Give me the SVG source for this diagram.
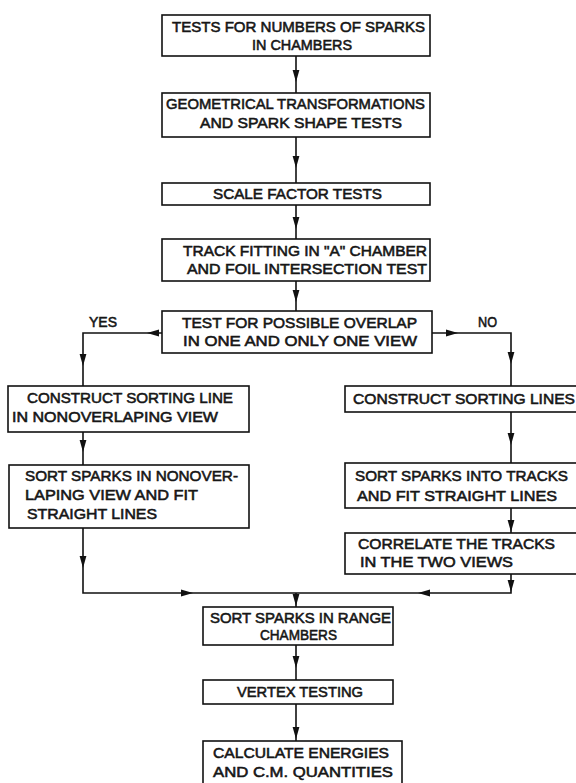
<svg xmlns="http://www.w3.org/2000/svg" width="576" height="783" viewBox="0 0 576 783">
  <style>
    .box { fill: #ffffff; stroke: #111111; stroke-width: 1.6; }
    .lbl { font-family: "Liberation Sans", "DejaVu Sans", Arial, sans-serif; font-size: 14.5px; font-weight: normal; fill: #161616; stroke: #161616; stroke-width: 0.55; }
    .wire { fill: none; stroke: #111111; stroke-width: 1.6; }
    .head { fill: #111111; }
  </style>
  <defs>
    <!-- arrowhead pointing down, tip at origin -->
    <path id="ah" d="M0,0 L-3.4,-12 L3.4,-12 Z"/>
  </defs>
  <rect width="576" height="783" fill="#ffffff"/>

  <g id="connectors">
    <path class="wire" d="M296,56 V93"/>
    <path class="wire" d="M296,137 V183"/>
    <path class="wire" d="M296,205 V239"/>
    <path class="wire" d="M296,281 V311"/>
    <path class="wire" d="M162,333 H83 V386"/>
    <path class="wire" d="M432,333 H511 V386"/>
    <path class="wire" d="M83,432 V465"/>
    <path class="wire" d="M83,528 V593 H511 V574"/>
    <path class="wire" d="M511,412 V463"/>
    <path class="wire" d="M511,508 V533"/>
    <path class="wire" d="M296,593 V607"/>
    <path class="wire" d="M296,645 V680"/>
    <path class="wire" d="M296,704 V741"/>
    <g class="head">
      <use href="#ah" transform="translate(296,82)"/>
      <use href="#ah" transform="translate(296,168)"/>
      <use href="#ah" transform="translate(296,229)"/>
      <use href="#ah" transform="translate(296,302)"/>
      <use href="#ah" transform="translate(147,333) rotate(90)"/>
      <use href="#ah" transform="translate(83,366)"/>
      <use href="#ah" transform="translate(458,333) rotate(-90)"/>
      <use href="#ah" transform="translate(511,364)"/>
      <use href="#ah" transform="translate(83,452)"/>
      <use href="#ah" transform="translate(83,568)"/>
      <use href="#ah" transform="translate(193,593) rotate(-90)"/>
      <use href="#ah" transform="translate(511,445)"/>
      <use href="#ah" transform="translate(511,532)"/>
      <use href="#ah" transform="translate(511,592)"/>
      <use href="#ah" transform="translate(418,593) rotate(90)"/>
      <use href="#ah" transform="translate(296,606)"/>
      <use href="#ah" transform="translate(296,668)"/>
      <use href="#ah" transform="translate(296,739)"/>
    </g>
    <text class="lbl" x="89" y="327" textLength="28" lengthAdjust="spacingAndGlyphs">YES</text>
    <text class="lbl" x="478" y="327" textLength="19" lengthAdjust="spacingAndGlyphs">NO</text>
  </g>

  <g id="n1">
    <rect class="box" x="162" y="15" width="268" height="41"/>
    <text class="lbl" x="172" y="32" textLength="253" lengthAdjust="spacingAndGlyphs">TESTS FOR NUMBERS OF SPARKS</text>
    <text class="lbl" x="252" y="50" textLength="100" lengthAdjust="spacingAndGlyphs">IN CHAMBERS</text>
  </g>
  <g id="n2">
    <rect class="box" x="162" y="93" width="268" height="44"/>
    <text class="lbl" x="166" y="109" textLength="259" lengthAdjust="spacingAndGlyphs">GEOMETRICAL TRANSFORMATIONS</text>
    <text class="lbl" x="200" y="128" textLength="202" lengthAdjust="spacingAndGlyphs">AND SPARK SHAPE TESTS</text>
  </g>
  <g id="n3">
    <rect class="box" x="162" y="183" width="268" height="22"/>
    <text class="lbl" x="213" y="199" textLength="169" lengthAdjust="spacingAndGlyphs">SCALE FACTOR TESTS</text>
  </g>
  <g id="n4">
    <rect class="box" x="162" y="239" width="268" height="42"/>
    <text class="lbl" x="183" y="256" textLength="244" lengthAdjust="spacingAndGlyphs">TRACK FITTING IN "A" CHAMBER</text>
    <text class="lbl" x="187" y="274" textLength="240" lengthAdjust="spacingAndGlyphs">AND FOIL INTERSECTION TEST</text>
  </g>
  <g id="n5">
    <rect class="box" x="162" y="311" width="270" height="42"/>
    <text class="lbl" x="182" y="328" textLength="235" lengthAdjust="spacingAndGlyphs">TEST FOR POSSIBLE OVERLAP</text>
    <text class="lbl" x="183" y="346" textLength="234" lengthAdjust="spacingAndGlyphs">IN ONE AND ONLY ONE VIEW</text>
  </g>
  <g id="n6">
    <rect class="box" x="8" y="386" width="241" height="46"/>
    <text class="lbl" x="27" y="403" textLength="206" lengthAdjust="spacingAndGlyphs">CONSTRUCT SORTING LINE</text>
    <text class="lbl" x="12" y="422" textLength="206" lengthAdjust="spacingAndGlyphs">IN NONOVERLAPING VIEW</text>
  </g>
  <g id="n7">
    <rect class="box" x="345" y="386" width="240" height="26"/>
    <text class="lbl" x="353" y="404" textLength="222" lengthAdjust="spacingAndGlyphs">CONSTRUCT SORTING LINES</text>
  </g>
  <g id="n8">
    <rect class="box" x="9" y="465" width="240" height="63"/>
    <text class="lbl" x="25" y="481" textLength="213" lengthAdjust="spacingAndGlyphs">SORT SPARKS IN NONOVER-</text>
    <text class="lbl" x="25" y="500" textLength="173" lengthAdjust="spacingAndGlyphs">LAPING VIEW AND FIT</text>
    <text class="lbl" x="27" y="519" textLength="130" lengthAdjust="spacingAndGlyphs">STRAIGHT LINES</text>
  </g>
  <g id="n9">
    <rect class="box" x="345" y="463" width="240" height="45"/>
    <text class="lbl" x="355" y="481" textLength="213" lengthAdjust="spacingAndGlyphs">SORT SPARKS INTO TRACKS</text>
    <text class="lbl" x="357" y="501" textLength="200" lengthAdjust="spacingAndGlyphs">AND FIT STRAIGHT LINES</text>
  </g>
  <g id="n10">
    <rect class="box" x="345" y="533" width="240" height="41"/>
    <text class="lbl" x="358" y="549" textLength="197" lengthAdjust="spacingAndGlyphs">CORRELATE THE TRACKS</text>
    <text class="lbl" x="360" y="567" textLength="153" lengthAdjust="spacingAndGlyphs">IN THE TWO VIEWS</text>
  </g>
  <g id="n11">
    <rect class="box" x="203" y="607" width="190" height="38"/>
    <text class="lbl" x="210" y="623" textLength="181" lengthAdjust="spacingAndGlyphs">SORT SPARKS IN RANGE</text>
    <text class="lbl" x="260" y="640" textLength="77" lengthAdjust="spacingAndGlyphs">CHAMBERS</text>
  </g>
  <g id="n12">
    <rect class="box" x="203" y="680" width="190" height="24"/>
    <text class="lbl" x="237" y="697" textLength="126" lengthAdjust="spacingAndGlyphs">VERTEX TESTING</text>
  </g>
  <g id="n13">
    <rect class="box" x="203" y="741" width="199" height="50"/>
    <text class="lbl" x="213" y="758" textLength="176" lengthAdjust="spacingAndGlyphs">CALCULATE ENERGIES</text>
    <text class="lbl" x="213" y="777" textLength="180" lengthAdjust="spacingAndGlyphs">AND C.M. QUANTITIES</text>
  </g>
</svg>
